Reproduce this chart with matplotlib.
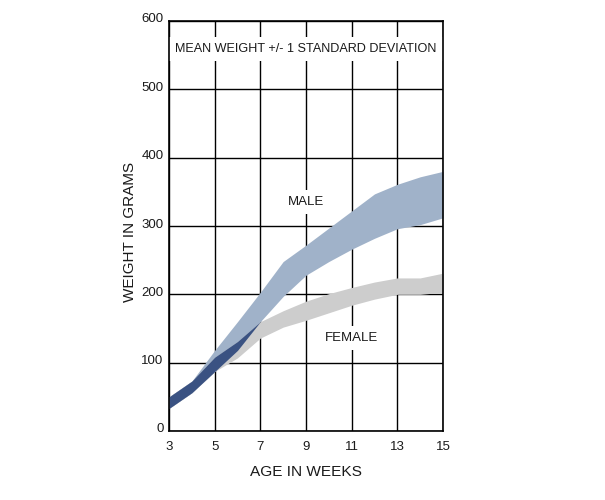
import numpy as np
import matplotlib
matplotlib.use("Agg")
import matplotlib.pyplot as plt
import matplotlib.transforms as mtransforms

plt.rcParams["font.family"] = ["Liberation Sans", "DejaVu Sans"]

# Data
weeks = [3, 4, 5, 6, 7, 8, 9, 10, 11, 12, 13, 14, 15]
male_upper = [50, 73, 118, 160, 203, 248, 272, 297, 322, 347, 361, 372, 380]
male_lower = [33, 56, 87, 118, 160, 197, 228, 248, 266, 282, 296, 302, 312]
female_upper = [50, 73, 108, 131, 160, 176, 190, 201, 210, 218, 224, 224, 231]
female_lower = [33, 56, 87, 107, 136, 152, 162, 173, 184, 193, 200, 200, 203]

male_color = "#a0b2c9"
female_color = "#cdcdcd"
overlap_color = "#3a5282"
text_color = "#1a1a1a"

fig = plt.figure(figsize=(6.05, 5.0), dpi=100)
ax = fig.add_axes([169 / 605, 69 / 500, 274 / 605, 410 / 500])

x = np.array(weeks)
mu, ml = np.array(male_upper), np.array(male_lower)
fu, fl = np.array(female_upper), np.array(female_lower)

ax.fill_between(x, ml, mu, color=male_color, linewidth=0, zorder=2)
ax.fill_between(x, fl, fu, color=female_color, linewidth=0, zorder=2)
# overlap of the two bands
top = np.minimum(mu, fu)
bot = np.maximum(ml, fl)
ax.fill_between(x, bot, top, where=top >= bot, interpolate=True,
                color=overlap_color, linewidth=0, zorder=3)

ax.set_xlim(3, 15)
ax.set_ylim(0, 600)
ax.set_xticks(range(3, 16, 2))
ax.set_yticks(range(0, 601, 100))
ax.grid(True, color="black", linewidth=1.0)
ax.set_axisbelow(True)
for s in ax.spines.values():
    s.set_linewidth(1.2)
    s.set_zorder(6)

ax.tick_params(axis="both", length=0, labelsize=9.5, labelcolor=text_color)
ax.tick_params(axis="x", pad=7)
ax.tick_params(axis="y", pad=4)
offset = mtransforms.ScaledTranslation(0, 0.03, fig.dpi_scale_trans)
for lab in ax.get_yticklabels():
    lab.set_transform(lab.get_transform() + offset)

box = dict(facecolor="white", edgecolor="none", pad=4.5)
ax.text(9, 559, "MEAN WEIGHT +/- 1 STANDARD DEVIATION", ha="center", va="center",
        fontsize=9.1, color=text_color, bbox=box, zorder=4)
ax.text(9, 335, "MALE", ha="center", va="center", fontsize=9.5,
        color=text_color, bbox=box, zorder=4)
ax.text(11, 136, "FEMALE", ha="center", va="center", fontsize=9.5,
        color=text_color, bbox=box, zorder=4)

fig.text(130 / 605, 1 - 232 / 500, "WEIGHT IN GRAMS", rotation=90,
         ha="center", va="center", fontsize=11, color=text_color)
fig.text(306 / 605, 1 - 472 / 500, "AGE IN WEEKS", ha="center", va="center",
         fontsize=11.1, color=text_color)

fig.savefig("out.png", dpi=100)
